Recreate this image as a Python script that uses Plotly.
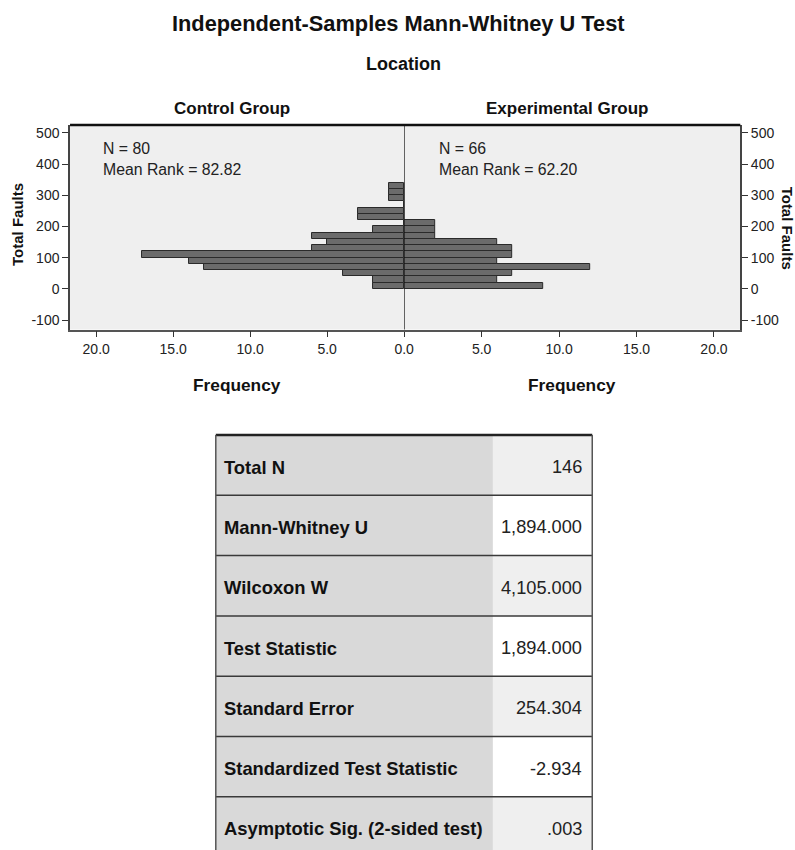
import plotly.graph_objects as go

W, H = 795, 850

# ---------------- data ----------------
bin_lower = [0, 20, 40, 60, 80, 100, 120, 140, 160, 180, 200, 220, 240, 260, 280, 300, 320]
bin_width = 20
control_counts = [2, 2, 4, 13, 14, 17, 6, 5, 6, 2, 0, 3, 3, 0, 1, 1, 1]
experimental_counts = [9, 6, 7, 12, 6, 7, 7, 6, 2, 2, 2, 0, 0, 0, 0, 0, 0]

group_names = ["Control Group", "Experimental Group"]
group_n = [80, 66]
group_mean_rank = [82.82, 62.20]

y_ticks = [-100, 0, 100, 200, 300, 400, 500]
y_tick_text = ["-100", "0", "100", "200", "300", "400", "500"]
x_ticks_left = [0, 5, 10, 15, 20]
x_ticks_right = [5, 10, 15, 20]

table_labels = ["Total N", "Mann-Whitney U", "Wilcoxon W", "Test Statistic",
                "Standard Error", "Standardized Test Statistic",
                "Asymptotic Sig. (2-sided test)"]
table_values = ["146", "1,894.000", "4,105.000", "1,894.000", "254.304", "-2.934", ".003"]

# ---------------- helpers ----------------
FONT = "Liberation Sans, Arial, sans-serif"
SX = 1.0 / 0.987  # horizontal calibration of the rendered page


def px(x):
    return x * SX / W


def py(y):
    return 1 - y / H


bin_centers = [b + bin_width / 2 for b in bin_lower]

# plot geometry (pixels)
PL, PM, PR = 70, 404, 740
PT, PB = 125, 329.5

fig = go.Figure()
bar_style = dict(color="#6b6b6b", line=dict(color="#2a2a2a", width=1))
fig.add_trace(go.Bar(y=bin_centers, x=control_counts, orientation="h", width=bin_width,
                     marker=bar_style, xaxis="x", yaxis="y", showlegend=False,
                     name=group_names[0]))
fig.add_trace(go.Bar(y=bin_centers, x=experimental_counts, orientation="h", width=bin_width,
                     marker=bar_style, xaxis="x2", yaxis="y2", showlegend=False,
                     name=group_names[1]))

common_x = dict(showgrid=False, zeroline=False, ticks="outside", ticklen=6, tickwidth=1,
                tickcolor="#333", showline=True, linecolor="#555", linewidth=1.5,
                tickformat=".1f", tickfont=dict(family=FONT, size=14, color="#222"),
                fixedrange=True)
common_y = dict(showgrid=False, zeroline=False, ticks="outside", ticklen=6, tickwidth=1,
                tickcolor="#333", showline=True, linecolor="#444", linewidth=1.5,
                range=[-130, 525], tickvals=y_ticks, ticktext=y_tick_text,
                tickfont=dict(family=FONT, size=14, color="#222"),
                domain=[py(PB), py(PT)], fixedrange=True)

fig.update_layout(
    width=W, height=H,
    margin=dict(l=0, r=0, t=0, b=0),
    paper_bgcolor="white",
    plot_bgcolor="#efefef",
    bargap=0,
    xaxis=dict(domain=[px(PL), px(PM)], range=[21.7, 0], anchor="y",
               tickvals=x_ticks_left, **common_x),
    xaxis2=dict(domain=[px(PM), px(PR)], range=[0, 21.7], anchor="y2",
                tickvals=x_ticks_right, **common_x),
    yaxis=dict(anchor="x", side="left", **common_y),
    yaxis2=dict(anchor="x2", side="right", matches="y", **common_y),
)

shapes = []
# thick top border
shapes.append(dict(type="line", xref="paper", yref="paper", x0=px(PL), x1=px(PR),
                   y0=py(PT), y1=py(PT), line=dict(color="#111", width=2.5)))
# center line at frequency 0
shapes.append(dict(type="line", xref="x2", yref="y2 domain", x0=0, x1=0, y0=0, y1=1,
                   line=dict(color="#111", width=1.2)))

annotations = []


def text(x, y, s, size, bold=False, xanchor="center", yanchor="middle", angle=0,
         color="#111", align="center"):
    annotations.append(dict(x=px(x), y=py(y), xref="paper", yref="paper", text=s,
                            showarrow=False, xanchor=xanchor, yanchor=yanchor,
                            textangle=angle, align=align,
                            font=dict(family=FONT, size=size, color=color,
                                      weight="bold" if bold else "normal")))


text(398, 24, "Independent-Samples Mann-Whitney U Test", 21.8, bold=True)
text(403, 64, "Location", 18, bold=True)
panel_centers = [(PL + PM) / 2, (PM + PR) / 2]
for i, name in enumerate(group_names):
    text(panel_centers[i] - 5, 108, name, 17, bold=True)
    text(panel_centers[i], 385, "Frequency", 17.3, bold=True)

stat_x = [101, 437]
for i in range(2):
    text(stat_x[i], 138, f"N = {group_n[i]}<br>Mean Rank = {group_mean_rank[i]:.2f}",
         15.8, xanchor="left", yanchor="top", color="#222", align="left")

text(18, 225, "Total Faults", 15, bold=True, angle=-90)
text(788, 228, "Total Faults", 15, bold=True, angle=90)

# ---------------- table ----------------
TX0, TX1, TC = 215.7, 592, 492.7
TT = 435
RH = 60.3
for i, (lab, val) in enumerate(zip(table_labels, table_values)):
    y0 = TT + i * RH
    y1 = y0 + RH
    shapes.append(dict(type="rect", xref="paper", yref="paper", x0=px(TX0), x1=px(TC),
                       y0=py(y1), y1=py(y0), fillcolor="#d9d9d9", line=dict(width=0),
                       layer="below"))
    shapes.append(dict(type="rect", xref="paper", yref="paper", x0=px(TC), x1=px(TX1),
                       y0=py(y1), y1=py(y0),
                       fillcolor="#efefef" if i % 2 == 0 else "#ffffff",
                       line=dict(width=0), layer="below"))
    if i > 0:
        shapes.append(dict(type="line", xref="paper", yref="paper", x0=px(TX0), x1=px(TX1),
                           y0=py(y0), y1=py(y0), line=dict(color="#3a3a3a", width=1.5)))
    text(222, (y0 + y1) / 2 + 2, lab, 18.4, bold=True, xanchor="left")
    text(584, (y0 + y1) / 2 + 2, val, 18.2, xanchor="right", color="#222")

shapes.append(dict(type="line", xref="paper", yref="paper", x0=px(TX0), x1=px(TX1),
                   y0=py(TT), y1=py(TT), line=dict(color="#222", width=2.5)))
for xv in (TX0, TX1):
    shapes.append(dict(type="line", xref="paper", yref="paper", x0=px(xv), x1=px(xv),
                       y0=py(TT), y1=py(H + 5), line=dict(color="#555", width=1.5)))

fig.update_layout(shapes=shapes, annotations=annotations)
fig.write_html("out.html",
               config={"displayModeBar": False},
               post_script="document.body.style.margin='0';"
                           "document.body.style.overflow='hidden';"
                           "document.documentElement.style.overflow='hidden';")
